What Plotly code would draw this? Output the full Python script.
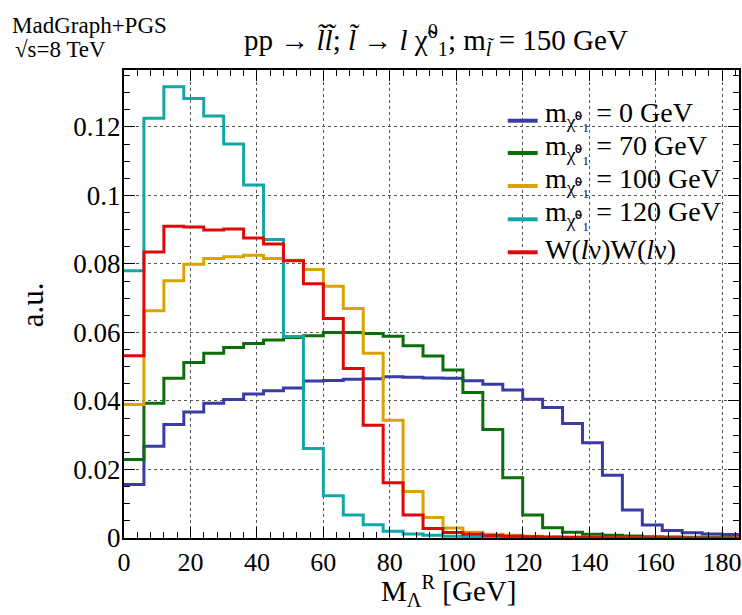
import numpy as np
import plotly.graph_objects as go

# ---------------- data ----------------
bin_width = 6.0
n_bins = 31
bin_edges = [i * bin_width for i in range(n_bins + 1)]

series_names = [
    "m<sub>χ̃⁰₁</sub> = 0 GeV",
    "m<sub>χ̃⁰₁</sub> = 70 GeV",
    "m<sub>χ̃⁰₁</sub> = 100 GeV",
    "m<sub>χ̃⁰₁</sub> = 120 GeV",
    "W(<i>l</i>ν)W(<i>l</i>ν)",
]

m0 = [0.0156, 0.0268, 0.0331, 0.0368, 0.0393, 0.0404, 0.0420, 0.0430, 0.0438, 0.0458,
      0.0460, 0.0463, 0.0465, 0.0471, 0.0469, 0.0467, 0.0466, 0.0459, 0.0449, 0.0432,
      0.0405, 0.0381, 0.0334, 0.0278, 0.0183, 0.0082, 0.0038, 0.0022, 0.0015, 0.0012, 0.0010]
m70 = [0.0229, 0.0393, 0.0466, 0.0512, 0.0539, 0.0556, 0.0568, 0.0578, 0.0585, 0.0590,
       0.0600, 0.0600, 0.0597, 0.0589, 0.0561, 0.0531, 0.0490, 0.0425, 0.0317, 0.0176,
       0.0067, 0.0030, 0.0017, 0.0011, 0.0008, 0.0006, 0.0004, 0.0003, 0.0002, 0.0002, 0.0001]
m100 = [0.0390, 0.0663, 0.0751, 0.0799, 0.0816, 0.0821, 0.0825, 0.0816, 0.0811, 0.0784,
        0.0735, 0.0670, 0.0539, 0.0344, 0.0136, 0.0060, 0.0029, 0.0017, 0.0011, 0.0008,
        0.0005, 0.0003, 0.0002, 0.0002, 0.0001, 0.0001, 0.0001, 0.0000, 0.0000, 0.0000, 0.0000]
m120 = [0.0780, 0.1225, 0.1317, 0.1283, 0.1232, 0.1150, 0.1030, 0.0871, 0.0588, 0.0261,
        0.0123, 0.0067, 0.0039, 0.0020, 0.0012, 0.0008, 0.0005, 0.0003, 0.0002, 0.0001,
        0.0001, 0.0000, 0.0000, 0.0000, 0.0000, 0.0000, 0.0000, 0.0000, 0.0000, 0.0000, 0.0000]
ww = [0.0532, 0.0835, 0.0910, 0.0908, 0.0899, 0.0902, 0.0876, 0.0858, 0.0809, 0.0742,
      0.0641, 0.0495, 0.0329, 0.0161, 0.0067, 0.0028, 0.0016, 0.0011, 0.0007, 0.0005,
      0.0004, 0.0003, 0.0002, 0.0002, 0.0001, 0.0001, 0.0001, 0.0001, 0.0000, 0.0000, 0.0000]

series_values = [m0, m70, m100, m120, ww]
series_colors = ["#3b3ba5", "#0b6e0b", "#d9a300", "#13a6a6", "#de0a0a"]

y_tickvals = [0, 0.02, 0.04, 0.06, 0.08, 0.10, 0.12]
y_ticktext = ["0", "0.02", "0.04", "0.06", "0.08", "0.1", "0.12"]
x_tickvals = [0, 20, 40, 60, 80, 100, 120, 140, 160, 180]
x_ticktext = ["0", "20", "40", "60", "80", "100", "120", "140", "160", "180"]

# ---------------- figure ----------------
W, H = 742, 615
L, R, T, B = 124, 1, 70, 77
FONT = "Liberation Serif, Times New Roman, serif"

fig = go.Figure()
for name, vals, col in zip(series_names, series_values, series_colors):
    fig.add_trace(go.Scatter(
        x=bin_edges,
        y=list(vals) + [vals[-1]],
        mode="lines",
        line=dict(shape="hv", color=col, width=3),
        name=name,
        showlegend=False,
    ))

def px_x(p):
    return (p - L) / (W - L - R)

def px_y(p):
    return (H - B - p) / (H - T - B)

axis_common = dict(
    showline=True, linecolor="black", linewidth=2, mirror="allticks",
    ticks="inside", ticklen=11, tickwidth=1, tickcolor="black",
    showgrid=True, gridcolor="#555555", griddash="dot", gridwidth=1,
    zeroline=False,
)

fig.update_layout(
    width=W, height=H,
    margin=dict(l=L, r=R, t=T, b=B),
    paper_bgcolor="white", plot_bgcolor="white",
    font=dict(family=FONT, color="black"),
    showlegend=False,
    xaxis=dict(range=[0, 185.1], tickvals=x_tickvals, ticktext=x_ticktext,
               tickfont=dict(family=FONT, size=26, color="black"),
               minor=dict(dtick=4, tick0=0, ticklen=6, ticks="inside", tickcolor="black", showgrid=False),
               **axis_common),
    yaxis=dict(range=[0, 0.1366], tickvals=y_tickvals, ticktext=y_ticktext,
               tickfont=dict(family=FONT, size=27, color="black"), ticklabelstandoff=-4,
               minor=dict(dtick=0.005, tick0=0, ticklen=6, ticks="inside", tickcolor="black", showgrid=False),
               **axis_common),
)

# white legend box hiding gridlines
fig.add_shape(type="rect", xref="paper", yref="paper",
              x0=px_x(502), x1=px_x(683), y0=px_y(268), y1=px_y(96),
              fillcolor="white", line=dict(width=0), layer="between")

# legend (samples + labels)
legend_rows = [120.7, 153.0, 186.0, 219.3, 252.3]
for i, (name, col, yy) in enumerate(zip(series_names, series_colors, legend_rows)):
    fig.add_shape(type="line", xref="paper", yref="paper",
                  x0=px_x(509), x1=px_x(539), y0=px_y(yy), y1=px_y(yy),
                  line=dict(color=col, width=4), layer="above")
    dy = 6 if i < 4 else 3
    fig.add_annotation(text=name, xref="paper", yref="paper",
                       x=px_x(544), y=px_y(yy - dy), xanchor="left", yanchor="middle",
                       showarrow=False, font=dict(family=FONT, size=28, color="black"))

annots = [
    dict(text="MadGraph+PGS", x=10, y=26, size=23, xanchor="left"),
    dict(text="√s=8 TeV", x=13, y=50, size=23, xanchor="left"),
    dict(text="pp → <i>l̃l̃</i>; <i>l̃</i> → <i>l</i> χ̃<sup>0</sup><sub>1</sub>; m<sub><i>l̃</i></sub> = 150 GeV",
         x=437, y=40, size=29, xanchor="center"),
    dict(text="M<sub>Λ</sub><sup>R</sup> [GeV]", x=450, y=591, size=29, xanchor="center"),
]
for a in annots:
    fig.add_annotation(text=a["text"], xref="paper", yref="paper",
                       x=px_x(a["x"]), y=px_y(a["y"]), xanchor=a["xanchor"], yanchor="middle",
                       showarrow=False, font=dict(family=FONT, size=a["size"], color="black"))

fig.add_annotation(text="a.u.", xref="paper", yref="paper", x=px_x(32), y=px_y(305),
                   xanchor="center", yanchor="middle", textangle=-90, showarrow=False,
                   font=dict(family=FONT, size=31, color="black"))

fig.write_html("out.html")
